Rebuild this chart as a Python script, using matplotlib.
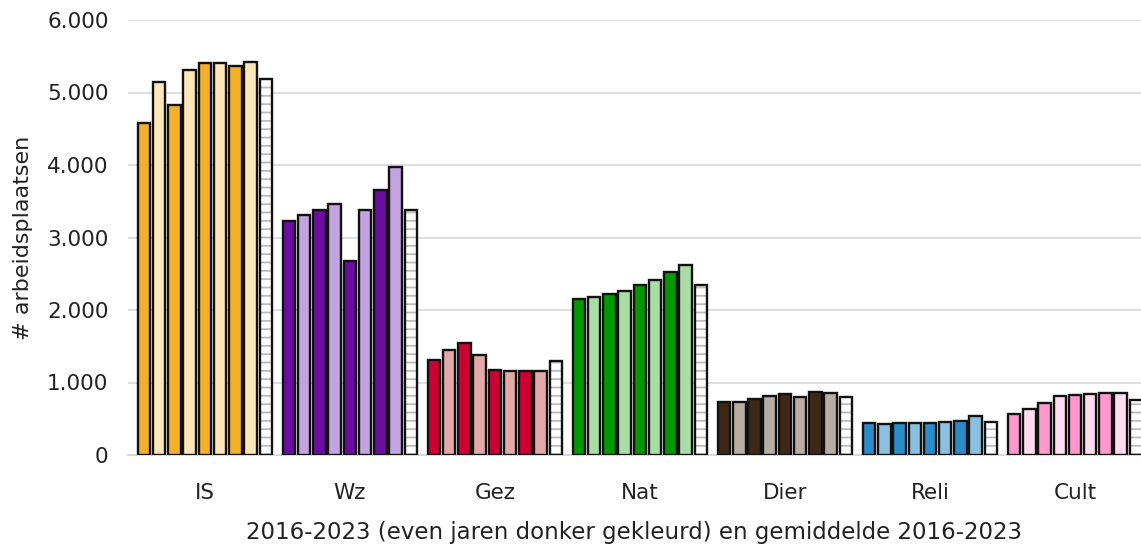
#!/usr/bin/env python3
import matplotlib
matplotlib.use("Agg")
import matplotlib.pyplot as plt
from matplotlib.ticker import FuncFormatter

groups = ["IS", "Wz", "Gez", "Nat", "Dier", "Reli", "Cult"]
years = [2016, 2017, 2018, 2019, 2020, 2021, 2022, 2023]

is_vals = [4583, 5140, 4823, 5306, 5407, 5407, 5370, 5416]
wz_vals = [3232, 3310, 3375, 3462, 2676, 3375, 3651, 3972]
gez_vals = [1310, 1452, 1549, 1379, 1172, 1159, 1163, 1159]
nat_vals = [2147, 2179, 2225, 2262, 2345, 2418, 2524, 2621]
dier_vals = [735, 735, 772, 818, 837, 800, 869, 855]
reli_vals = [441, 428, 437, 441, 441, 450, 464, 533]
cult_vals = [566, 634, 721, 818, 828, 837, 851, 851]

dark_colors = ["#F5B02A", "#6A0DA0", "#CC0033", "#009900", "#3D2817", "#2A8CC8", "#FF99CC"]
light_colors = ["#FDE6B8", "#C3A3E0", "#E3A8A8", "#A8DDA8", "#B8ADA3", "#8CC0E0", "#FFDDEE"]

plt.rcParams['font.family'] = ['DejaVu Sans']
plt.rcParams['hatch.linewidth'] = 1.3

def main():
    series = [is_vals, wz_vals, gez_vals, nat_vals, dier_vals, reli_vals, cult_vals]

    fig = plt.figure(figsize=(11.41, 5.48), dpi=100)
    ax = fig.add_axes([128 / 1141, 1 - 455 / 548, 1 - 128 / 1141, (455 - 20) / 548])

    slot = 0.105
    width = 0.086
    for g, vals in enumerate(series):
        for i, v in enumerate(vals):
            x = g + (i - 4) * slot
            color = dark_colors[g] if i % 2 == 0 else light_colors[g]
            ax.bar(x, v, width=width, color=color, edgecolor="#111111", linewidth=1.7, zorder=3)
        avg = sum(vals) / len(vals)
        x = g + 4 * slot
        ax.bar(x, avg, width=width, color="white", edgecolor="#BBBBBB", hatch="--", linewidth=0, zorder=3)
        ax.bar(x, avg, width=width, fill=False, edgecolor="#111111", linewidth=1.7, zorder=4)

    ax.set_xlim(-0.53, 6.455)
    ax.set_ylim(0, 6000)
    ax.set_yticks(range(0, 6001, 1000))
    ax.yaxis.set_major_formatter(FuncFormatter(lambda v, p: "{:,}".format(int(v)).replace(",", ".")))
    ax.set_xticks(range(len(groups)))
    ax.set_xticklabels(groups)
    ax.tick_params(axis="both", length=0, labelsize=15.5, colors="#222222")
    ax.tick_params(axis="y", pad=14)
    ax.tick_params(axis="x", pad=20)
    ax.grid(axis="y", color="#D9D9D9", linewidth=1.2, zorder=0)
    for s in ["left", "right", "top"]:
        ax.spines[s].set_visible(False)
    ax.spines["bottom"].set_color("#D9D9D9")
    ax.spines["bottom"].set_linewidth(1.5)

    ax.set_xlabel("2016-2023 (even jaren donker gekleurd) en gemiddelde 2016-2023", fontsize=16.5, color="#222222", labelpad=13)
    ax.set_ylabel("# arbeidsplaatsen", fontsize=16, color="#222222", labelpad=10)

    plt.savefig("out.png", dpi=100)

if __name__ == '__main__':
    main()
